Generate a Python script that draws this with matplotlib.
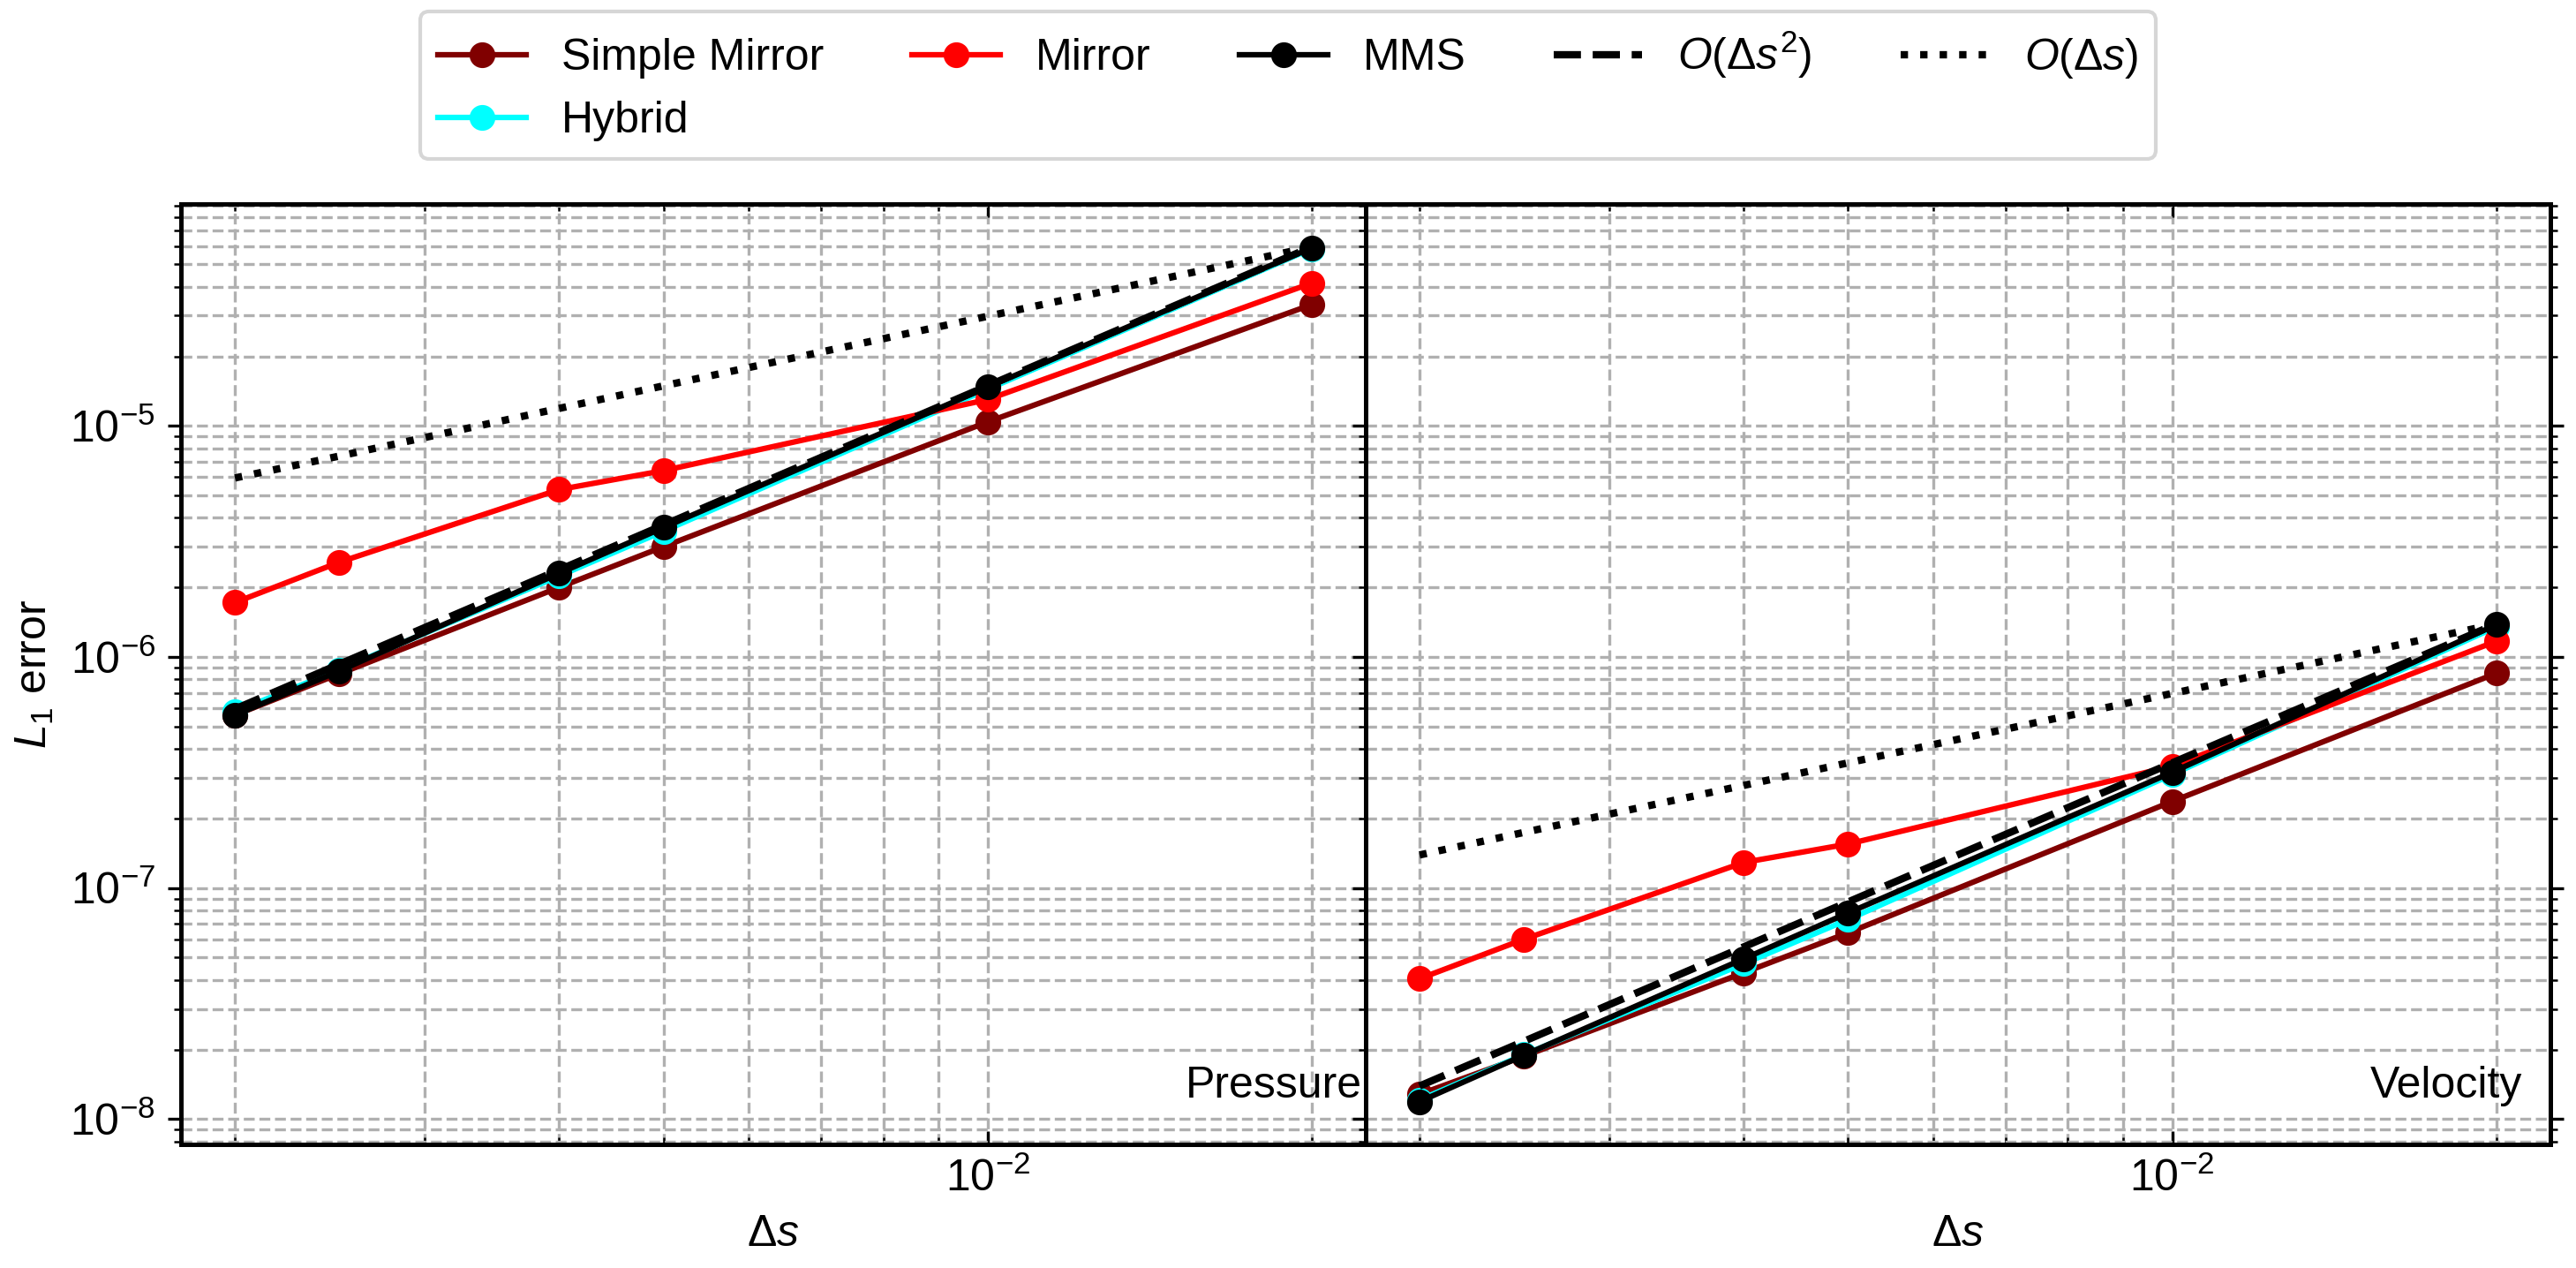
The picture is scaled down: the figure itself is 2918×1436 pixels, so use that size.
import matplotlib
matplotlib.use('Agg')
from matplotlib import pyplot as plt

plt.rcParams['font.family'] = ['Liberation Sans', 'DejaVu Sans']
plt.rcParams['mathtext.fontset'] = 'custom'
plt.rcParams['mathtext.rm'] = 'Liberation Sans'
plt.rcParams['mathtext.it'] = 'Liberation Sans:italic'
plt.rcParams['mathtext.bf'] = 'Liberation Sans:bold'
plt.rcParams['font.size'] = 12
plt.rcParams['axes.linewidth'] = 1.2

# grid spacing
ds = [0.002, 0.0025, 0.004, 0.005, 0.01, 0.02]

# pressure errors
p_simple = [5.6e-7, 8.45e-7, 2.0e-6, 3.0e-6, 1.04e-5, 3.35e-5]
p_hybrid = [5.8e-7, 8.8e-7, 2.24e-6, 3.5e-6, 1.44e-5, 5.85e-5]
p_mirror = [1.72e-6, 2.57e-6, 5.3e-6, 6.4e-6, 1.30e-5, 4.15e-5]
p_mms = [5.6e-7, 8.7e-7, 2.3e-6, 3.63e-6, 1.47e-5, 5.9e-5]
p_order2 = [5.95e-7, 9.3e-7, 2.38e-6, 3.72e-6, 1.49e-5, 5.95e-5]
p_order1 = [5.95e-6, 7.4e-6, 1.19e-5, 1.49e-5, 2.98e-5, 5.95e-5]

# velocity errors
v_simple = [1.28e-8, 1.87e-8, 4.3e-8, 6.4e-8, 2.37e-7, 8.5e-7]
v_hybrid = [1.21e-8, 1.9e-8, 4.7e-8, 7.3e-8, 3.1e-7, 1.35e-6]
v_mirror = [4.05e-8, 6.0e-8, 1.29e-7, 1.55e-7, 3.37e-7, 1.17e-6]
v_mms = [1.19e-8, 1.89e-8, 4.94e-8, 7.8e-8, 3.17e-7, 1.38e-6]
v_order2 = [1.39e-8, 2.17e-8, 5.56e-8, 8.7e-8, 3.48e-7, 1.39e-6]
v_order1 = [1.39e-7, 1.74e-7, 2.78e-7, 3.48e-7, 6.95e-7, 1.39e-6]

panels = [
    ('Pressure', p_simple, p_hybrid, p_mirror, p_mms, p_order2, p_order1),
    ('Velocity', v_simple, v_hybrid, v_mirror, v_mms, v_order2, v_order1),
]

fig, axs = plt.subplots(1, 2, sharey=True, figsize=(2918 / 300, 1436 / 300), dpi=300)
fig.subplots_adjust(left=0.0703, right=0.990, top=0.839, bottom=0.0975, wspace=0)

for ax, (name, simple, hybrid, mirror, mms, o2, o1) in zip(axs, panels):
    ax.plot(ds, simple, 'o-', color='#800000', label='Simple Mirror')
    ax.plot(ds, hybrid, 'o-', color='cyan', label='Hybrid')
    ax.plot(ds, mirror, 'o-', color='red', label='Mirror')
    ax.plot(ds, mms, 'o-', color='black', label='MMS')
    ax.plot(ds, o2, '--', color='black', lw=2, label=r'$O(\Delta s^2)$')
    ax.plot(ds, o1, ':', color='black', lw=2, label=r'$O(\Delta s)$')
    ax.set_xscale('log')
    ax.set_yscale('log')
    ax.grid(True, which='both', ls='--', color='#b0b0b0', lw=0.8)
    ax.set_xlabel(r'$\Delta s$')
    ax.tick_params(axis='x', which='both', direction='in', top=True, bottom=True)
    ax.tick_params(axis='y', which='both', direction='out')
    ax.text(0.848, 0.05, name, transform=ax.transAxes, ha='left', va='baseline')

axs[0].set_ylabel(r'$L_1$ error')
axs[1].tick_params(axis='y', which='both', left=True, right=True, labelleft=False)

handles, labels = axs[0].get_legend_handles_labels()
fig.legend(handles, labels, loc='upper center', bbox_to_anchor=(0.5, 0.991),
           ncol=5, borderaxespad=0, fontsize=12)

fig.savefig('out.png', dpi=300)
